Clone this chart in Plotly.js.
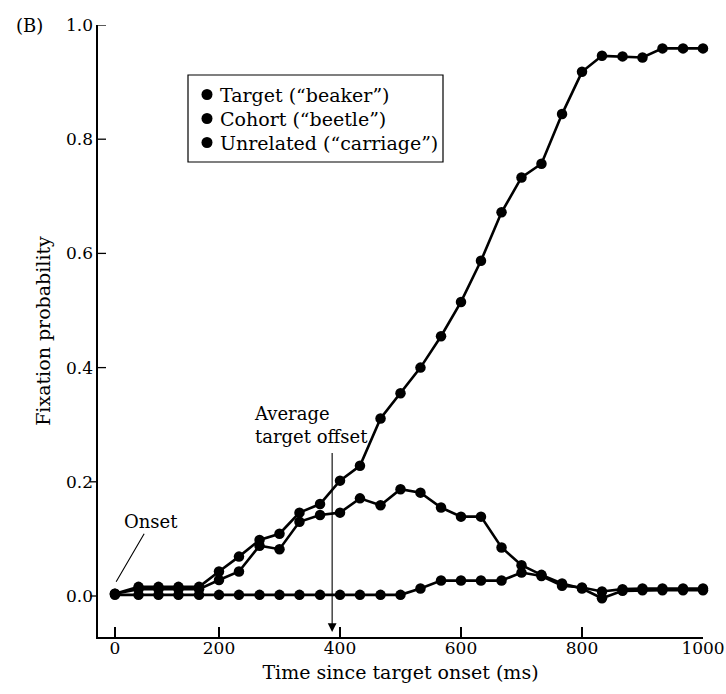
<!DOCTYPE html>
<html>
<head>
<meta charset="utf-8">
<script src="https://cdn.plot.ly/plotly-3.0.1.min.js"></script>
<style>html,body{margin:0;padding:0;background:#fff;}#chart{width:726px;height:694px;}</style>
</head>
<body>
<div id="chart"></div>
<script>
// ---- data ----
const timeMs = [28, 67, 100, 133, 167, 200, 233, 267, 300, 333, 367, 400, 433, 467, 500,
                533, 567, 600, 633, 667, 700, 733, 767, 800, 833, 867, 900, 933, 967, 1000];
const targetProb = [0.004, 0.016, 0.016, 0.016, 0.016, 0.043, 0.069, 0.098, 0.109, 0.146,
                    0.161, 0.202, 0.228, 0.311, 0.355, 0.400, 0.455, 0.515, 0.587, 0.672,
                    0.733, 0.757, 0.844, 0.918, 0.946, 0.945, 0.943, 0.959, 0.959, 0.959];
const cohortProb = [0.004, 0.012, 0.012, 0.012, 0.012, 0.028, 0.043, 0.088, 0.082, 0.130,
                    0.142, 0.146, 0.171, 0.159, 0.187, 0.181, 0.155, 0.139, 0.139, 0.085,
                    0.054, 0.037, 0.022, 0.013, -0.004, 0.009, 0.010, 0.010, 0.010, 0.010];
const unrelatedProb = [0.002, 0.002, 0.002, 0.002, 0.002, 0.002, 0.002, 0.002, 0.002, 0.002,
                       0.002, 0.002, 0.002, 0.002, 0.002, 0.013, 0.027, 0.027, 0.027, 0.027,
                       0.041, 0.035, 0.018, 0.015, 0.008, 0.012, 0.013, 0.013, 0.013, 0.013];
const seriesNames = ['Target (\u201cbeaker\u201d)', 'Cohort (\u201cbeetle\u201d)', 'Unrelated (\u201ccarriage\u201d)'];
const xTickVals = [28, 200, 400, 600, 800, 1000];
const xTickText = ['0', '200', '400', '600', '800', '1000'];
const yTickVals = [0, 0.2, 0.4, 0.6, 0.8, 1.0];
const yTickText = ['0.0', '0.2', '0.4', '0.6', '0.8', '1.0'];
const offsetMs = 387;     // average target offset
const onsetMs = 30;

// ---- geometry ----
const W = 726, H = 694;
const M = {l: 98, r: 23, t: 25, b: 57};
const plotW = W - M.l - M.r, plotH = H - M.t - M.b;
const px2paperX = p => (p - M.l) / plotW;
const px2paperY = p => (H - M.b - p) / plotH;
const FONT = 'DejaVu Serif';

const allY = [targetProb, cohortProb, unrelatedProb];
const traces = allY.map((ys, i) => ({
  type: 'scatter', mode: 'lines+markers', name: seriesNames[i],
  x: timeMs, y: ys,
  line: {color: '#000', width: 2.6},
  marker: {color: '#000', size: 10.5},
  cliponaxis: false,
  hoverinfo: 'x+y+name'
}));
traces.reverse();

const shapes = [];
// y ticks: bottom ones outside, upper ones inside (as in the reference)
yTickVals.forEach(v => {
  const len = 8 / plotW;
  const out = v < 0.3;
  shapes.push({type: 'line', xref: 'paper', yref: 'y', x0: 0, x1: out ? -len : len, y0: v, y1: v,
               line: {color: '#000', width: 1.3}});
});
// legend box
const legLeft = 188, legRight = 443, legTop = 75, legBottom = 162;
shapes.push({type: 'rect', xref: 'paper', yref: 'paper',
  x0: px2paperX(legLeft), x1: px2paperX(legRight), y0: px2paperY(legBottom), y1: px2paperY(legTop),
  line: {color: '#000', width: 1.2}, fillcolor: 'rgba(255,255,255,0)'});
const legRows = [94.5, 118.5, 142.5];
const annotations = [];
seriesNames.forEach((nm, i) => {
  shapes.push({type: 'circle', xref: 'paper', yref: 'paper', xsizemode: 'pixel', ysizemode: 'pixel',
    xanchor: px2paperX(207), yanchor: px2paperY(legRows[i]), x0: -5.5, x1: 5.5, y0: -5.5, y1: 5.5,
    fillcolor: '#000', line: {color: '#000', width: 0}});
  annotations.push({xref: 'paper', yref: 'paper', x: px2paperX(218), y: px2paperY(legRows[i]),
    xanchor: 'left', yanchor: 'middle', text: nm, showarrow: false,
    font: {family: FONT, size: 19, color: '#000'}});
});

annotations.push({xref: 'paper', yref: 'paper', x: px2paperX(29), y: px2paperY(25),
  xanchor: 'center', yanchor: 'middle', text: '(B)', showarrow: false,
  font: {family: FONT, size: 18, color: '#000'}});

annotations.push({x: onsetMs, y: 0.025, xref: 'x', yref: 'y', text: 'Onset',
  showarrow: true, arrowhead: 0, arrowwidth: 1.1, arrowcolor: '#000', ax: 35, ay: -60,
  font: {family: FONT, size: 18, color: '#000'}});

annotations.push({x: 254, y: 0.30, xref: 'x', yref: 'y', xanchor: 'left', yanchor: 'middle',
  align: 'left', text: 'Average<br>target offset', showarrow: false,
  font: {family: FONT, size: 18, color: '#000'}});

annotations.push({x: offsetMs, y: -0.063, xref: 'x', yref: 'y', text: ' ',
  showarrow: true, arrowhead: 2, arrowsize: 1.6, arrowwidth: 1.1, arrowcolor: '#000',
  ax: 0, ay: -181, font: {size: 1}});

const layout = {
  width: W, height: H, margin: M,
  paper_bgcolor: '#fff', plot_bgcolor: '#fff', showlegend: false,
  font: {family: FONT, size: 17, color: '#000'},
  xaxis: {range: [0, 1000], showgrid: false, zeroline: false, showline: true,
    linewidth: 1.6, linecolor: '#000', ticks: 'inside', ticklen: 10, tickwidth: 1.2, tickcolor: '#000',
    tickmode: 'array', tickvals: xTickVals, ticktext: xTickText, tickfont: {family: FONT, size: 17},
    ticklabelstandoff: -5,
    title: {text: 'Time since target onset (ms)', font: {family: FONT, size: 19}, standoff: 8}},
  yaxis: {range: [-0.0718, 1.0], showgrid: false, zeroline: false, showline: true,
    linewidth: 1.6, linecolor: '#000', ticks: '',
    tickmode: 'array', tickvals: yTickVals, ticktext: yTickText, tickfont: {family: FONT, size: 17},
    ticklabelstandoff: 0,
    title: {text: 'Fixation probability', font: {family: FONT, size: 19}, standoff: 10}},
  shapes: shapes, annotations: annotations
};

Plotly.newPlot('chart', traces, layout, {displayModeBar: false, staticPlot: true});
</script>
</body>
</html>
